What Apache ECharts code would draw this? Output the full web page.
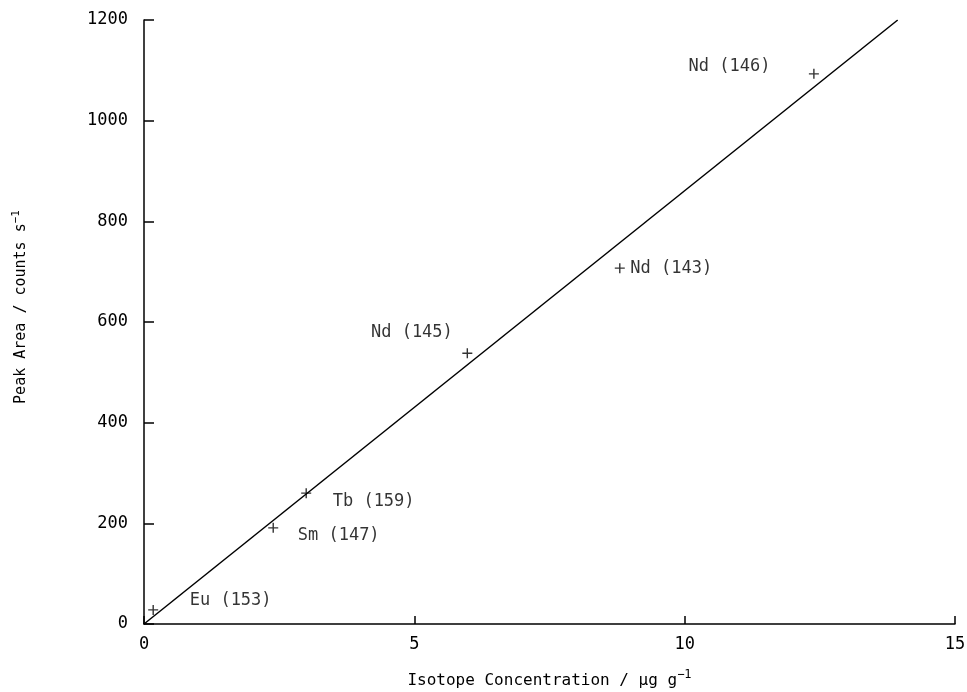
<!DOCTYPE html>
<html>
<head>
<meta charset="utf-8">
<script src="https://cdn.jsdelivr.net/npm/echarts@6/dist/echarts.min.js"></script>
<style>html,body{margin:0;padding:0;background:#fff;}#c{width:967px;height:692px;}</style>
</head>
<body>
<div id="c"></div>
<script>
const isotopes = ['Eu (153)', 'Sm (147)', 'Tb (159)', 'Nd (145)', 'Nd (143)', 'Nd (146)'];
const concentration = [0.17, 2.39, 3.0, 5.98, 8.8, 12.39];
const peakArea = [28, 191, 260, 538, 707, 1093];
const fitLineX = [0, 13.94];
const fitLineY = [0, 1200];
const xTicks = [0, 5, 10, 15];
const yTicks = [0, 200, 400, 600, 800, 1000, 1200];

const labelPlacement = [
  {position: 'right', offset: [24, -9]},
  {position: 'right', offset: [12, 8]},
  {position: 'right', offset: [14, 8]},
  {position: 'left', offset: [-2, -21]},
  {position: 'right', offset: [-2, 0]},
  {position: 'left', offset: [-31, -7]}
];

const FONT = 'DejaVu Sans Mono';
const chart = echarts.init(document.getElementById('c'), null, {renderer: 'canvas'});
chart.setOption({
  animation: false,
  backgroundColor: '#fff',
  grid: {left: 144, right: 12, top: 20, bottom: 68, containLabel: false, outerBoundsMode: 'none'},
  xAxis: {
    type: 'value', min: 0, max: 15, interval: 5,
    axisLine: {show: true, lineStyle: {color: '#000', width: 1.5}},
    axisTick: {show: true, inside: true, length: 8, lineStyle: {color: '#000', width: 1.5}},
    axisLabel: {color: '#000', fontFamily: FONT, fontSize: 17, margin: 12,
      formatter: v => xTicks.includes(v) ? String(v) : ''},
    splitLine: {show: false},
    name: 'Isotope Concentration / μg g{sup|−1}',
    nameLocation: 'middle', nameGap: 45,
    nameTextStyle: {color: '#000', fontFamily: FONT, fontSize: 16,
      rich: {sup: {fontFamily: FONT, fontSize: 12, verticalAlign: 'top', padding: [0, 0, 11, 0], color: '#000'}}}
  },
  yAxis: {
    type: 'value', min: 0, max: 1200, interval: 200,
    axisLine: {show: true, lineStyle: {color: '#000', width: 1.5}},
    axisTick: {show: true, inside: true, length: 10, lineStyle: {color: '#000', width: 1.5}},
    axisLabel: {color: '#000', fontFamily: FONT, fontSize: 17, margin: 16,
      formatter: v => yTicks.includes(v) ? String(v) : ''},
    splitLine: {show: false},
    name: 'Peak Area / counts s{sup|−1}',
    nameLocation: 'middle', nameGap: 112, nameRotate: 90,
    nameTextStyle: {color: '#000', fontFamily: FONT, fontSize: 15, padding: [0, 0, 0, 30],
      rich: {sup: {fontFamily: FONT, fontSize: 11, verticalAlign: 'top', padding: [0, 0, 10, 0], color: '#000'}}}
  },
  series: [
    {
      type: 'line',
      data: fitLineX.map((x, i) => [x, fitLineY[i]]),
      showSymbol: false, symbol: 'none',
      lineStyle: {color: '#000', width: 1.5},
      silent: true
    },
    {
      type: 'scatter',
      symbol: 'path://M5,0L5,10M0,5L10,5',
      symbolSize: 10,
      itemStyle: {color: 'none', borderColor: '#000', borderWidth: 1.4},
      data: concentration.map((x, i) => ({
        value: [x, peakArea[i]],
        name: isotopes[i],
        label: {show: true, position: labelPlacement[i].position, offset: labelPlacement[i].offset,
          distance: 5, formatter: isotopes[i], color: '#000', fontFamily: FONT, fontSize: 17}
      }))
    }
  ]
});
</script>
</body>
</html>
